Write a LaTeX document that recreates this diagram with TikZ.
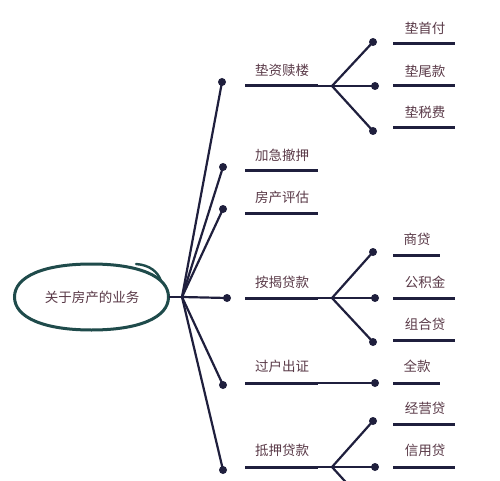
\documentclass[tikz,border=0pt]{standalone}
\usepackage{fontspec}
\newfontfamily\cjk{Noto Sans CJK SC}
\definecolor{navy}{HTML}{1F1F3D}
\definecolor{mauve}{HTML}{5A3A48}
\definecolor{teal2}{HTML}{1F4B4B}
\tikzset{
  dotnode/.style={circle, fill=navy, inner sep=0pt, minimum size=8pt},
  conn/.style={draw=navy, line width=2.2pt},
  uline/.style={draw=navy, line width=3pt},
  lbl/.style={text=mauve, font=\cjk\fontsize{13.5}{15}\selectfont, inner sep=0pt},
}
\begin{document}
\begin{tikzpicture}[x=1pt,y=-1pt]
\fill[white] (0,0) rectangle (500,481);
\useasboundingbox (0,0) rectangle (500,481);
\clip (0,0) rectangle (500,481);

% root ellipse (hand-drawn look)
\draw[teal2, line width=3pt] (168.5,297) .. controls (168.5,276.5) and (139.2,264) .. (91.5,264)
  .. controls (43.8,264) and (14.5,276.5) .. (14.5,297)
  .. controls (14.5,317.5) and (43.8,330) .. (91.5,330)
  .. controls (139.2,330) and (168.5,317.5) .. (168.5,297) -- cycle;
\draw[teal2, line width=2.4pt, line cap=round] (136,264) .. controls (150,265) and (158,272) .. (161,281);
\node[lbl] (root) at (92,297) {关于房产的业务};
\coordinate (rootE) at (168.5,297);
\coordinate (hub) at (182,297);
\draw[conn] (rootE) -- (hub);

% level 1 dots
\node[dotnode] (d1) at (222,82) {};
\node[dotnode] (d2) at (223,167) {};
\node[dotnode] (d3) at (223,209) {};
\node[dotnode] (d4) at (227,298) {};
\node[dotnode] (d5) at (223,385) {};
\node[dotnode] (d6) at (223,470) {};
\foreach \d in {d1,d2,d3,d4,d5,d6} \draw[conn] (hub) -- (\d.center);

% level 1 labels
\node[lbl] (t1) at (282,70) {垫资赎楼};
\node[lbl] (t2) at (282,155) {加急撤押};
\node[lbl] (t3) at (282,197) {房产评估};
\node[lbl] (t4) at (282,282) {按揭贷款};
\node[lbl] (t5) at (282,366) {过户出证};
\node[lbl] (t6) at (282,450) {抵押贷款};

% level 1 underlines
\coordinate (u1a) at (245,86);  \coordinate (u1b) at (318,86);
\coordinate (u2a) at (245,171); \coordinate (u2b) at (318,171);
\coordinate (u3a) at (245,213); \coordinate (u3b) at (318,213);
\coordinate (u4a) at (245,298); \coordinate (u4b) at (318,298);
\coordinate (u5a) at (245,383); \coordinate (u5b) at (318,383);
\coordinate (u6a) at (245,467); \coordinate (u6b) at (318,467);
\foreach \i in {1,...,6} \draw[uline] (u\i a) -- (u\i b);

% branch points
\coordinate (b1) at (332,86);
\coordinate (b4) at (332,298);
\coordinate (b6) at (332,467);
\draw[conn] (u1b) -- (b1);
\draw[conn] (u4b) -- (b4);
\draw[conn] (u6b) -- (b6);

% level 2 dots
\node[dotnode] (e1) at (373,42) {};
\node[dotnode] (e2) at (375,86) {};
\node[dotnode] (e3) at (373,131) {};
\node[dotnode] (e4) at (373,252) {};
\node[dotnode] (e5) at (375,298) {};
\node[dotnode] (e6) at (373,342) {};
\node[dotnode] (e7) at (375,383) {};
\node[dotnode] (e8) at (373,421) {};
\node[dotnode] (e9) at (375,467) {};
\coordinate (e10) at (373,512);

\foreach \e in {e1,e2,e3} \draw[conn] (b1) -- (\e.center);
\foreach \e in {e4,e5,e6} \draw[conn] (b4) -- (\e.center);
\foreach \e in {e8,e9} \draw[conn] (b6) -- (\e.center);
\draw[conn] (b6) -- (e10);
\draw[conn] (u5b) -- (e7.center);

% level 2 labels
\node[lbl] (s1) at (425,28) {垫首付};
\node[lbl] (s2) at (425,71) {垫尾款};
\node[lbl] (s3) at (425,112) {垫税费};
\node[lbl] (s4) at (417,239) {商贷};
\node[lbl] (s5) at (425,282) {公积金};
\node[lbl] (s6) at (425,324) {组合贷};
\node[lbl] (s7) at (417,366) {全款};
\node[lbl] (s8) at (425,408) {经营贷};
\node[lbl] (s9) at (425,450) {信用贷};

% level 2 underlines
\coordinate (v1a) at (393,44);  \coordinate (v1b) at (455,44);
\coordinate (v2a) at (393,86);  \coordinate (v2b) at (455,86);
\coordinate (v3a) at (393,128); \coordinate (v3b) at (455,128);
\coordinate (v4a) at (393,255); \coordinate (v4b) at (440,255);
\coordinate (v5a) at (393,298); \coordinate (v5b) at (455,298);
\coordinate (v6a) at (393,340); \coordinate (v6b) at (455,340);
\coordinate (v7a) at (393,383); \coordinate (v7b) at (440,383);
\coordinate (v8a) at (393,424); \coordinate (v8b) at (455,424);
\coordinate (v9a) at (393,467); \coordinate (v9b) at (455,467);
\foreach \i in {1,...,9} \draw[uline] (v\i a) -- (v\i b);
\end{tikzpicture}
\end{document}
